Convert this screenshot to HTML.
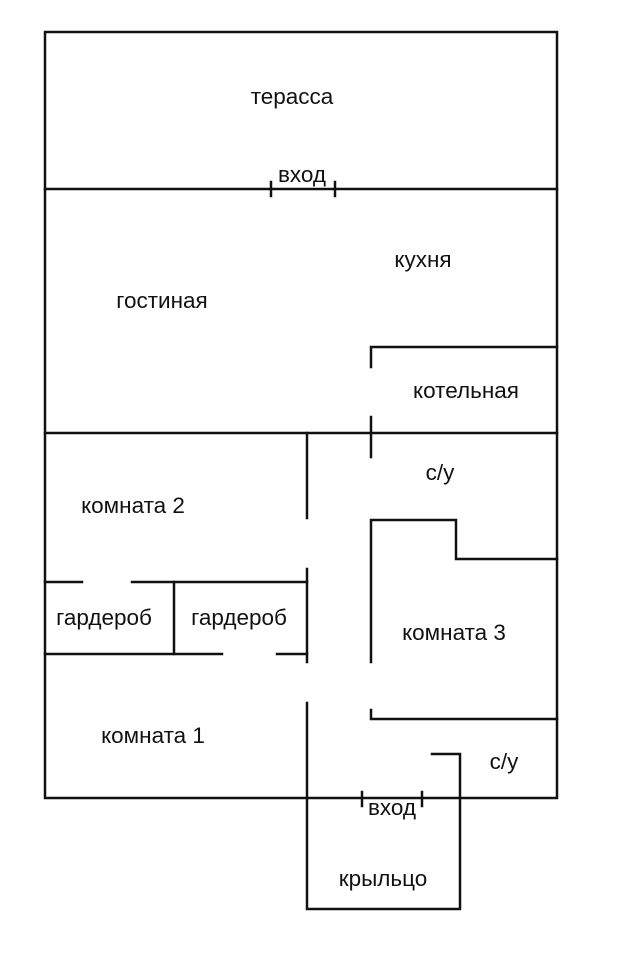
<!DOCTYPE html>
<html><head><meta charset="utf-8"><style>
html,body{margin:0;padding:0;background:#fff;}
svg text{font-family:"Liberation Sans","DejaVu Sans",sans-serif;font-size:22.5px;fill:#111;text-anchor:middle;}
</style></head><body>
<svg width="632" height="960" viewBox="0 0 632 960" xmlns="http://www.w3.org/2000/svg">
<g stroke="#111" stroke-width="2.5" fill="none" stroke-linecap="square">
<rect x="45" y="32" width="512" height="766"/>
<line x1="45" y1="189" x2="557" y2="189"/>
<line x1="271" y1="182" x2="271" y2="196"/>
<line x1="335" y1="182" x2="335" y2="196"/>
<line x1="45" y1="433" x2="557" y2="433"/>
<polyline points="371,367 371,347 557,347"/>
<line x1="371" y1="417" x2="371" y2="457"/>
<polyline points="371,662 371,520 456,520 456,559 557,559"/>
<polyline points="371,710 371,719 557,719"/>
<line x1="307" y1="433" x2="307" y2="518"/>
<line x1="307" y1="569" x2="307" y2="662"/>
<polyline points="307,703 307,909 460,909 460,754 432,754"/>
<line x1="45" y1="582" x2="82" y2="582"/>
<line x1="132" y1="582" x2="307" y2="582"/>
<line x1="174" y1="582" x2="174" y2="654"/>
<line x1="45" y1="654" x2="222" y2="654"/>
<line x1="277" y1="654" x2="307" y2="654"/>
<line x1="362" y1="792" x2="362" y2="806"/>
<line x1="422" y1="792" x2="422" y2="806"/>
</g>
<text x="292" y="104">терасса</text>
<text x="302" y="182">вход</text>
<text x="423" y="267">кухня</text>
<text x="162" y="308">гостиная</text>
<text x="466" y="398">котельная</text>
<text x="440" y="480">с/у</text>
<text x="133" y="513">комната 2</text>
<text x="104" y="625">гардероб</text>
<text x="239" y="625">гардероб</text>
<text x="454" y="640">комната 3</text>
<text x="153" y="743">комната 1</text>
<text x="504" y="769">с/у</text>
<text x="392" y="815">вход</text>
<text x="383" y="886">крыльцо</text>
</svg>
</body></html>
